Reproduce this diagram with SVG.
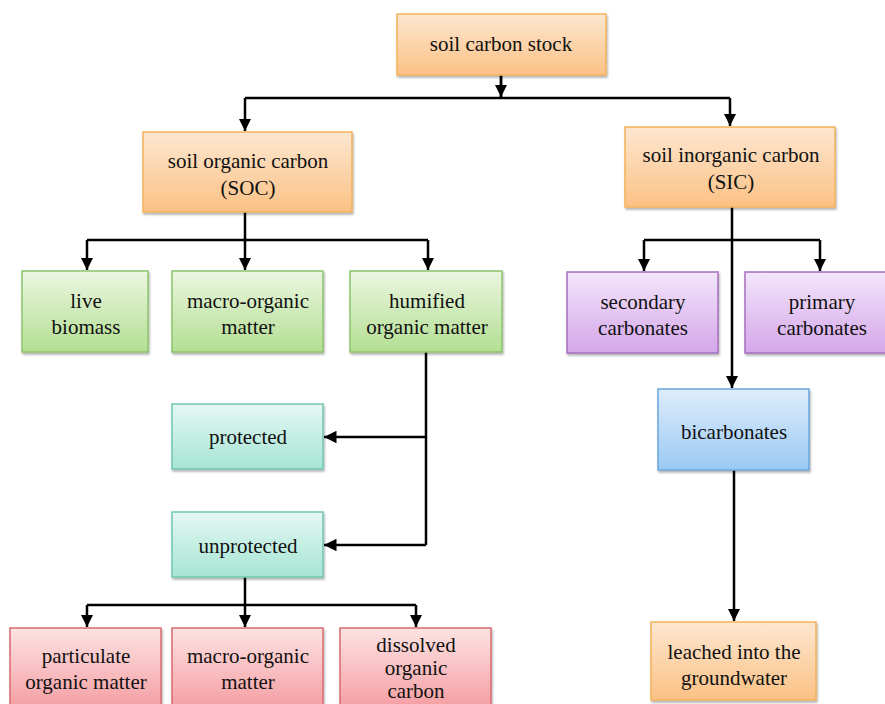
<svg xmlns="http://www.w3.org/2000/svg" width="885" height="704" viewBox="0 0 885 704">
<defs>
<linearGradient id="gO" x1="0" y1="0" x2="0" y2="1"><stop offset="0" stop-color="#fde7d0"/><stop offset="1" stop-color="#fbc185"/></linearGradient>
<linearGradient id="gG" x1="0" y1="0" x2="0" y2="1"><stop offset="0" stop-color="#ebf6e1"/><stop offset="1" stop-color="#b3df92"/></linearGradient>
<linearGradient id="gP" x1="0" y1="0" x2="0" y2="1"><stop offset="0" stop-color="#f3e6fa"/><stop offset="1" stop-color="#d4a6ea"/></linearGradient>
<linearGradient id="gT" x1="0" y1="0" x2="0" y2="1"><stop offset="0" stop-color="#e4f8f3"/><stop offset="1" stop-color="#a6e5d4"/></linearGradient>
<linearGradient id="gB" x1="0" y1="0" x2="0" y2="1"><stop offset="0" stop-color="#deedfc"/><stop offset="1" stop-color="#9ac9f4"/></linearGradient>
<linearGradient id="gR" x1="0" y1="0" x2="0" y2="1"><stop offset="0" stop-color="#fde3e3"/><stop offset="1" stop-color="#f49a9f"/></linearGradient>
<filter id="sh" x="-10%" y="-10%" width="120%" height="130%"><feDropShadow dx="1" dy="2" stdDeviation="1.2" flood-color="#000" flood-opacity="0.3"/></filter>
<marker id="ar" viewBox="0 0 10 10" refX="10" refY="5" markerWidth="5" markerHeight="5" orient="auto" markerUnits="strokeWidth"><path d="M0,0 L10,5 L0,10 z" fill="#000"/></marker>
</defs>
<style>
rect{stroke-width:1.5;filter:url(#sh)}
.o{fill:url(#gO);stroke:#f3b25c}
.g{fill:url(#gG);stroke:#8cc46c}
.p{fill:url(#gP);stroke:#a56fbf}
.t{fill:url(#gT);stroke:#72c6b1}
.b{fill:url(#gB);stroke:#6aa6dc}
.r{fill:url(#gR);stroke:#d76b70}
text{font-family:"Liberation Serif","Times New Roman",serif;font-size:21px;fill:#111;text-anchor:middle}
#connectors path{fill:none;stroke:#000;stroke-width:2.5}
#connectors .a{marker-end:url(#ar)}
</style>
<g id="connectors">
<path d="M501,75 V98"/>
<path class="a" d="M501,76 V97"/>
<path d="M245,98 H730"/>
<path class="a" d="M245,98 V131"/>
<path class="a" d="M730,98 V126"/>
<path d="M245,212 V240 M87,240 H428"/>
<path class="a" d="M87,240 V270"/>
<path class="a" d="M245,240 V270"/>
<path class="a" d="M428,240 V270"/>
<path d="M644,240 H820"/>
<path class="a" d="M644,240 V271"/>
<path class="a" d="M820,240 V271"/>
<path class="a" d="M732,207 V388"/>
<path class="a" d="M734,470 V621"/>
<path d="M426,352 V545"/>
<path class="a" d="M426,437 H324"/>
<path class="a" d="M426,545 H324"/>
<path d="M245,577 V605 M87,605 H416"/>
<path class="a" d="M87,605 V627"/>
<path class="a" d="M245,605 V627"/>
<path class="a" d="M416,605 V627"/>
</g>
<g id="stock"><rect class="o" x="397" y="14" width="209" height="61"/><text x="501" y="51">soil carbon stock</text></g>
<g id="soc"><rect class="o" x="143" y="132" width="209" height="80"/><text x="248" y="168">soil organic carbon</text><text x="248" y="195">(SOC)</text></g>
<g id="sic"><rect class="o" x="625" y="127" width="210" height="80"/><text x="731" y="162">soil inorganic carbon</text><text x="731" y="189">(SIC)</text></g>
<g id="live"><rect class="g" x="22" y="271" width="126" height="81"/><text x="86" y="308">live</text><text x="86" y="334">biomass</text></g>
<g id="macro1"><rect class="g" x="172" y="271" width="151" height="81"/><text x="248" y="308">macro-organic</text><text x="248" y="334">matter</text></g>
<g id="humified"><rect class="g" x="350" y="271" width="152" height="81"/><text x="427" y="308">humified</text><text x="427" y="334">organic matter</text></g>
<g id="secondary"><rect class="p" x="567" y="272" width="151" height="81"/><text x="643" y="309">secondary</text><text x="643" y="335">carbonates</text></g>
<g id="primary"><rect class="p" x="745" y="272" width="145" height="81"/><text x="822" y="309">primary</text><text x="822" y="335">carbonates</text></g>
<g id="bicarbonates"><rect class="b" x="658" y="389" width="151" height="81"/><text x="734" y="439">bicarbonates</text></g>
<g id="leached"><rect class="o" x="651" y="622" width="165" height="78"/><text x="734" y="659">leached into the</text><text x="734" y="685">groundwater</text></g>
<g id="protected"><rect class="t" x="172" y="404" width="151" height="65"/><text x="248" y="444">protected</text></g>
<g id="unprotected"><rect class="t" x="172" y="512" width="151" height="65"/><text x="248" y="553">unprotected</text></g>
<g id="particulate"><rect class="r" x="10" y="628" width="151" height="85"/><text x="86" y="663">particulate</text><text x="86" y="689">organic matter</text></g>
<g id="macro2"><rect class="r" x="172" y="628" width="151" height="85"/><text x="248" y="663">macro-organic</text><text x="248" y="689">matter</text></g>
<g id="dissolved"><rect class="r" x="340" y="628" width="151" height="85"/><text x="416" y="652">dissolved</text><text x="416" y="675">organic</text><text x="416" y="698">carbon</text></g>
</svg>
